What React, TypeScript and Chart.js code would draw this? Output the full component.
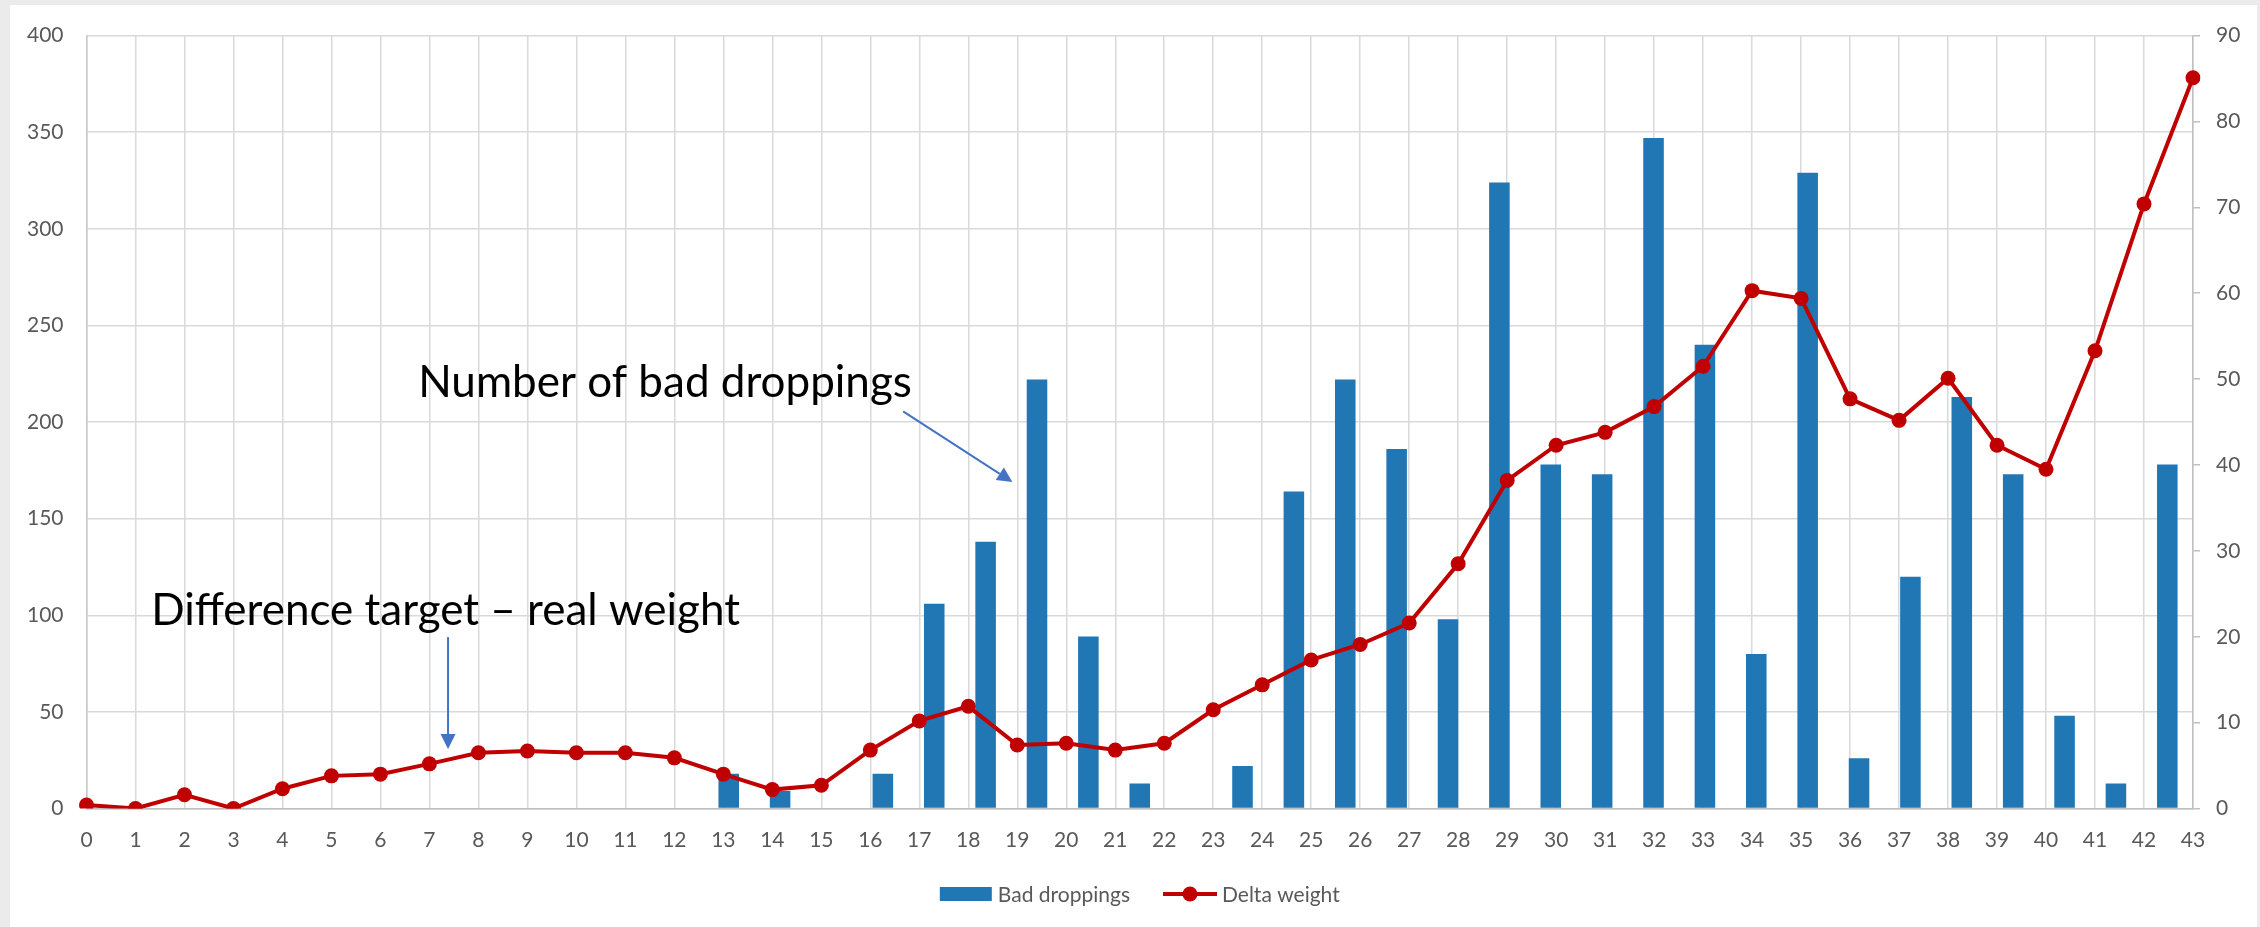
import React, { useEffect, useRef } from 'react';
import { Chart, registerables } from 'chart.js';

Chart.register(...registerables);

// ---- data ----
const categories = [
  '0', '1', '2', '3', '4', '5', '6', '7', '8', '9', '10', '11', '12', '13', '14', '15',
  '16', '17', '18', '19', '20', '21', '22', '23', '24', '25', '26', '27', '28', '29', '30',
  '31', '32', '33', '34', '35', '36', '37', '38', '39', '40', '41', '42', '43',
];

// the bar series sits on its own category axis (41 slots, between tick marks)
const barSlots = [
  '0', '1', '2', '3', '4', '5', '6', '7', '8', '9', '10', '11', '12', '13', '14', '15',
  '16', '17', '18', '19', '20', '21', '22', '23', '24', '25', '26', '27', '28', '29', '30',
  '31', '32', '33', '34', '35', '36', '37', '38', '39', '40',
];

const badDroppings = [
  0, 0, 0, 0, 0, 0, 0, 0, 0, 0, 0, 0, 18, 9, 0, 18, 106, 138, 222, 89, 13, 0, 22, 164,
  222, 186, 98, 324, 178, 173, 347, 240, 80, 329, 26, 120, 213, 173, 48, 13, 178,
];

const deltaWeight = [
  0.4, 0, 1.6, 0, 2.3, 3.8, 4.0, 5.2, 6.5, 6.7, 6.5, 6.5, 5.9, 4.0, 2.2, 2.7, 6.8, 10.2,
  11.9, 7.4, 7.6, 6.8, 7.6, 11.5, 14.4, 17.3, 19.1, 21.6, 28.5, 38.2, 42.3, 43.8, 46.8,
  51.5, 60.3, 59.4, 47.7, 45.2, 50.1, 42.3, 39.5, 53.3, 70.4, 85.1,
];

const leftAxisRange = [0, 400, 50];
const rightAxisRange = [0, 90, 10];

const seriesNames = ['Bad droppings', 'Delta weight'];

const annotationTexts = ['Number of bad droppings', 'Difference target \u2013 real weight'];
// anchors in axis units: [x category index, left-axis value]
const annotationTextAnchors = [
  [6.77, 212.8],
  [1.32, 94.9],
];
const annotationArrows = [
  [16.67, 205.5, 18.9, 169],
  [7.38, 88.7, 7.38, 30.8],
];

// ---- styles ----
const BAR_COLOR = '#2077b4';
const LINE_COLOR = '#c00000';
const GRID_COLOR = '#d9d9d9';
const AXIS_COLOR = '#bfbfbf';
const TEXT_COLOR = '#595959';
const ARROW_COLOR = '#4472c4';
const FONT = 'Lato';

const annotationPlugin = {
  id: 'annotations',
  afterDatasetsDraw(chart: any) {
    const ctx = chart.ctx as CanvasRenderingContext2D;
    const xs = chart.scales.x;
    const ys = chart.scales.y;
    ctx.save();
    ctx.fillStyle = '#000';
    ctx.font = `44px ${FONT}`;
    ctx.textBaseline = 'alphabetic';
    ctx.textAlign = 'left';
    annotationTexts.forEach((t, i) => {
      const [ax, ay] = annotationTextAnchors[i];
      ctx.fillText(t, xs.getPixelForValue(ax), ys.getPixelForValue(ay));
    });
    ctx.strokeStyle = ARROW_COLOR;
    ctx.fillStyle = ARROW_COLOR;
    ctx.lineWidth = 2;
    annotationArrows.forEach(([x0, y0, x1, y1]) => {
      const px0 = xs.getPixelForValue(x0);
      const py0 = ys.getPixelForValue(y0);
      const px1 = xs.getPixelForValue(x1);
      const py1 = ys.getPixelForValue(y1);
      const ang = Math.atan2(py1 - py0, px1 - px0);
      const head = 15;
      const half = 7.5;
      const bx = px1 - head * Math.cos(ang);
      const by = py1 - head * Math.sin(ang);
      ctx.beginPath();
      ctx.moveTo(px0, py0);
      ctx.lineTo(bx, by);
      ctx.stroke();
      ctx.beginPath();
      ctx.moveTo(px1, py1);
      ctx.lineTo(bx + half * Math.sin(ang), by - half * Math.cos(ang));
      ctx.lineTo(bx - half * Math.sin(ang), by + half * Math.cos(ang));
      ctx.closePath();
      ctx.fill();
    });
    ctx.restore();
  },
};

const legendPlugin = {
  id: 'customLegend',
  afterDraw(chart: any) {
    const ctx = chart.ctx as CanvasRenderingContext2D;
    const area = chart.chartArea;
    ctx.save();
    ctx.font = `21px ${FONT}`;
    ctx.textBaseline = 'alphabetic';
    ctx.textAlign = 'left';
    const boxW = 52;
    const boxH = 14;
    const lineW = 54;
    const gap1 = 6;
    const gap2 = 5;
    const itemGap = 33;
    const w0 = boxW + gap1 + ctx.measureText(seriesNames[0]).width;
    const w1 = lineW + gap2 + ctx.measureText(seriesNames[1]).width;
    const total = w0 + itemGap + w1;
    let x = (area.left + area.right) / 2 - total / 2;
    const cy = area.bottom + 85.5;
    const base = cy + 7.5;
    ctx.fillStyle = BAR_COLOR;
    ctx.fillRect(x, cy - boxH / 2, boxW, boxH);
    ctx.fillStyle = TEXT_COLOR;
    ctx.fillText(seriesNames[0], x + boxW + gap1, base);
    x += w0 + itemGap;
    ctx.strokeStyle = LINE_COLOR;
    ctx.lineWidth = 4;
    ctx.beginPath();
    ctx.moveTo(x, cy);
    ctx.lineTo(x + lineW, cy);
    ctx.stroke();
    ctx.fillStyle = LINE_COLOR;
    ctx.beginPath();
    ctx.arc(x + lineW / 2, cy, 7.5, 0, Math.PI * 2);
    ctx.fill();
    ctx.fillStyle = TEXT_COLOR;
    ctx.fillText(seriesNames[1], x + lineW + gap2, base);
    ctx.restore();
  },
};

export default function App() {
  const ref = useRef<HTMLCanvasElement>(null);

  useEffect(() => {
    let chart: Chart | null = null;
    let cancelled = false;
    const make = () => {
      if (cancelled || !ref.current) return;
      const tickFont = { family: FONT, size: 21 };
      chart = new Chart(ref.current, {
        type: 'bar',
        data: {
          labels: categories,
          datasets: [
            {
              type: 'line',
              label: seriesNames[1],
              data: deltaWeight,
              xAxisID: 'x',
              yAxisID: 'y1',
              borderColor: LINE_COLOR,
              backgroundColor: LINE_COLOR,
              borderWidth: 4,
              pointRadius: 7.5,
              pointBorderWidth: 0,
              pointBackgroundColor: LINE_COLOR,
              tension: 0,
              order: 0,
            } as any,
            {
              type: 'bar',
              label: seriesNames[0],
              data: badDroppings,
              xAxisID: 'xb',
              yAxisID: 'y',
              backgroundColor: BAR_COLOR,
              borderWidth: 0,
              grouped: false,
              barPercentage: 0.4,
              categoryPercentage: 1,
              order: 1,
            } as any,
          ],
        },
        options: {
          responsive: false,
          animation: false,
          devicePixelRatio: 1,
          layout: { padding: { top: 35, bottom: 58.5, left: 0, right: 0 } },
          plugins: {
            legend: { display: false },
            tooltip: { enabled: false },
          },
          scales: {
            x: {
              type: 'category',
              labels: categories,
              position: 'bottom',
              offset: false,
              grid: { color: GRID_COLOR, lineWidth: 1.5, drawTicks: false, offset: false },
              border: { display: true, color: AXIS_COLOR, width: 1.5 },
              ticks: {
                color: TEXT_COLOR,
                font: tickFont,
                padding: 19,
                autoSkip: false,
                maxRotation: 0,
              },
              afterFit: (s: any) => {
                s.height = 60;
              },
            },
            xb: {
              type: 'category',
              labels: barSlots,
              offset: true,
              display: false,
            },
            y: {
              position: 'left',
              min: leftAxisRange[0],
              max: leftAxisRange[1],
              ticks: { stepSize: leftAxisRange[2], color: TEXT_COLOR, font: tickFont, padding: 23 },
              grid: { color: GRID_COLOR, lineWidth: 1.5, drawTicks: false },
              border: { display: true, color: '#c8c8c8', width: 1.5 },
              afterFit: (s: any) => {
                s.width = 86.5;
              },
            },
            y1: {
              position: 'right',
              min: rightAxisRange[0],
              max: rightAxisRange[1],
              ticks: { stepSize: rightAxisRange[2], color: TEXT_COLOR, font: tickFont, padding: 16 },
              grid: {
                drawOnChartArea: false,
                drawTicks: true,
                tickLength: 7,
                color: AXIS_COLOR,
                lineWidth: 1.5,
              },
              border: { display: true, color: AXIS_COLOR, width: 1.5 },
              afterFit: (s: any) => {
                s.width = 67;
              },
            },
          },
        } as any,
        plugins: [annotationPlugin, legendPlugin],
      });
    };
    const fontsReady = (document as any).fonts
      ? Promise.all([
          (document as any).fonts.load(`21px ${FONT}`),
          (document as any).fonts.load(`44px ${FONT}`),
        ])
      : Promise.resolve();
    fontsReady.then(make, make);
    return () => {
      cancelled = true;
      if (chart) chart.destroy();
    };
  }, []);

  return (
    <div
      style={{
        position: 'absolute',
        left: 0,
        top: 0,
        width: 2260,
        height: 927,
        background: '#ebebeb',
        overflow: 'hidden',
      }}
    >
      <div
        style={{ position: 'absolute', left: 10, top: 5, width: 2247, height: 922, background: '#ffffff' }}
      />
      <canvas
        ref={ref}
        width={2260}
        height={927}
        style={{ position: 'absolute', left: 0, top: 0, width: 2260, height: 927 }}
      />
    </div>
  );
}
